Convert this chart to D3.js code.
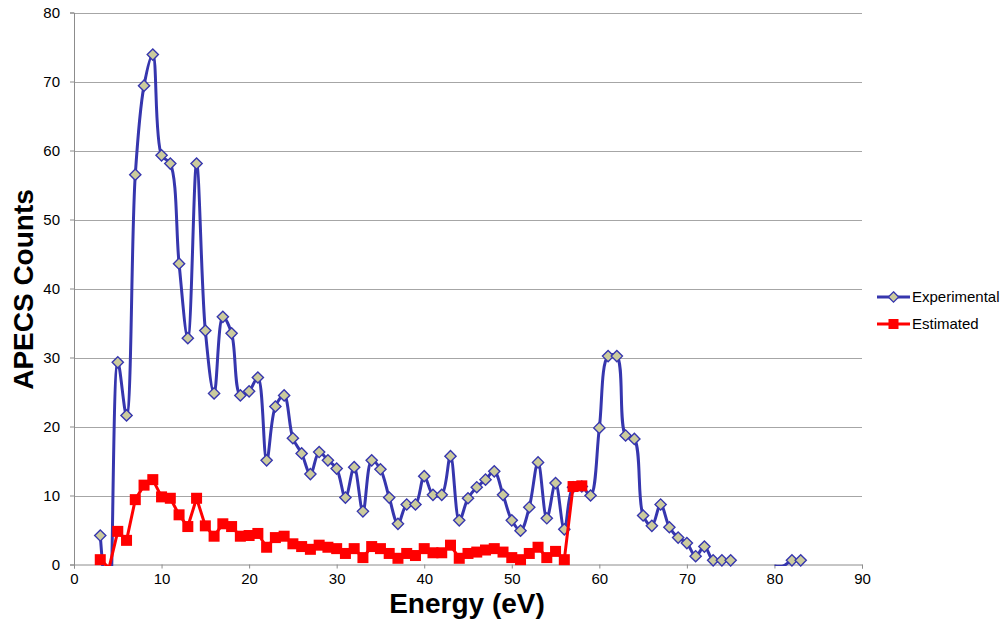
<!DOCTYPE html>
<html>
<head>
<meta charset="utf-8">
<script src="https://cdn.jsdelivr.net/npm/d3@7"></script>
<style>
  html, body { margin: 0; padding: 0; background: #fff; }
  svg { display: block; font-family: "Liberation Sans", Arial, sans-serif; }
</style>
</head>
<body>
<svg id="chart" width="1006" height="624"></svg>
<script>
// Photo-electron energies (eV) and counts for each series
const experimentalEnergy = [
  3, 4, 5, 6, 7, 8, 9, 10, 11, 12, 13, 14, 15, 16, 17, 18, 19, 20, 21, 22,
  23, 24, 25, 26, 27, 28, 29, 30, 31, 32, 33, 34, 35, 36, 37, 38, 39, 40, 41, 42,
  43, 44, 45, 46, 47, 48, 49, 50, 51, 52, 53, 54, 55, 56, 57, 58, 59, 60, 61, 62,
  63, 64, 65, 66, 67, 68, 69, 70, 71, 72, 73, 74, 75, 76, 77, 78, 79, 80, 81, 82, 83
];
const experimentalCounts = [
  4.2, -8, 29.3, 21.6, 56.5, 69.4, 73.9, 59.3, 58.1, 43.6, 32.8, 58.1, 33.9, 24.8, 35.9, 33.5, 24.5, 25.1, 27.1, 15.1,
  22.9, 24.5, 18.3, 16.1, 13.1, 16.3, 15.1, 13.9, 9.7, 14.1, 7.7, 15.1, 13.8, 9.7, 5.9, 8.7, 8.7, 12.8, 10.1, 10.1,
  15.7, 6.4, 9.6, 11.2, 12.3, 13.5, 10.1, 6.4, 4.9, 8.3, 14.8, 6.7, 11.8, 5.1, 11.2, 11.3, 10.0, 19.8, 30.2, 30.2,
  18.7, 18.2, 7.1, 5.6, 8.7, 5.4, 3.9, 3.1, 1.2, 2.6, 0.6, 0.6, 0.6, null, null, null, null, -0.2, -0.2, 0.6, 0.6
];

const estimatedEnergy = [
  3, 4, 5, 6, 7, 8, 9, 10, 11, 12, 13, 14, 15, 16, 17, 18, 19, 20, 21, 22,
  23, 24, 25, 26, 27, 28, 29, 30, 31, 32, 33, 34, 35, 36, 37, 38, 39, 40, 41, 42,
  43, 44, 45, 46, 47, 48, 49, 50, 51, 52, 53, 54, 55, 56, 57, 58
];
const estimatedCounts = [
  0.7, -0.5, 4.8, 3.5, 9.4, 11.5, 12.3, 9.8, 9.6, 7.2, 5.5, 9.6, 5.6, 4.1, 5.9, 5.5, 4.1, 4.2, 4.5, 2.5,
  3.9, 4.1, 3.0, 2.6, 2.2, 2.8, 2.5, 2.3, 1.6, 2.3, 1.0, 2.6, 2.3, 1.6, 0.9, 1.6, 1.3, 2.3, 1.7, 1.7,
  2.8, 0.9, 1.6, 1.8, 2.1, 2.3, 1.8, 1.0, 0.7, 1.6, 2.5, 1.0, 1.9, 0.7, 11.3, 11.4
];

const xTicks = [0, 10, 20, 30, 40, 50, 60, 70, 80, 90];
const yTicks = [0, 10, 20, 30, 40, 50, 60, 70, 80];
const seriesNames = ["Experimental", "Estimated"];

const svg = d3.select("#chart");
const plot = { left: 74, right: 862, top: 12.5, bottom: 564.5 };

const x = d3.scaleLinear().domain([0, 90]).range([plot.left, plot.right]);
const y = d3.scaleLinear().domain([0, 80]).range([plot.bottom, plot.top]);

const gridColor = "#a6a6a6";
const axisColor = "#8c8c8c";

// Horizontal gridlines
svg.append("g")
  .selectAll("line")
  .data(yTicks.filter(t => t > 0))
  .join("line")
  .attr("x1", plot.left).attr("x2", plot.right)
  .attr("y1", d => Math.round(y(d)) + 0.5).attr("y2", d => Math.round(y(d)) + 0.5)
  .attr("stroke", gridColor).attr("stroke-width", 1);

// Y axis
const yAxis = svg.append("g")
  .attr("transform", `translate(${plot.left},0)`)
  .call(d3.axisLeft(y).tickValues(yTicks).tickSize(4).tickPadding(10));
yAxis.select(".domain").attr("stroke", axisColor);
yAxis.selectAll(".tick line").attr("stroke", axisColor);
yAxis.selectAll(".tick text")
  .attr("font-size", 15).attr("fill", "#000")
  .attr("font-family", "'Liberation Sans', Arial, sans-serif");

// X axis
const xAxis = svg.append("g")
  .attr("transform", `translate(0,${plot.bottom})`)
  .call(d3.axisBottom(x).tickValues(xTicks).tickSize(4).tickPadding(5));
xAxis.select(".domain").attr("stroke", axisColor);
xAxis.selectAll(".tick line").attr("stroke", axisColor);
xAxis.selectAll(".tick text")
  .attr("font-size", 15).attr("fill", "#000")
  .attr("font-family", "'Liberation Sans', Arial, sans-serif");

// Axis titles
svg.append("text")
  .attr("x", x(45) - 1).attr("y", 613)
  .attr("text-anchor", "middle")
  .attr("font-size", 28).attr("font-weight", "bold")
  .text("Energy (eV)");

svg.append("text")
  .attr("transform", `translate(33,${(plot.top + plot.bottom) / 2 + 1}) rotate(-90)`)
  .attr("text-anchor", "middle")
  .attr("font-size", 28).attr("font-weight", "bold")
  .text("APECS Counts");

// Lines are clipped to the plotting area
svg.append("defs").append("clipPath").attr("id", "plotClip")
  .append("rect")
  .attr("x", plot.left).attr("y", plot.top)
  .attr("width", plot.right - plot.left).attr("height", plot.bottom - plot.top + 1.5);

const expData = experimentalEnergy.map((e, i) => ({ e, v: experimentalCounts[i] }));
const estData = estimatedEnergy.map((e, i) => ({ e, v: estimatedCounts[i] }));

const blue = "#3636ae";
const red = "#ff0000";
const diamondFill = "#cbcb9d";

const smoothLine = d3.line()
  .defined(d => d.v !== null)
  .x(d => x(d.e)).y(d => y(d.v))
  .curve(d3.curveCatmullRom.alpha(0.5));

const straightLine = d3.line()
  .defined(d => d.v !== null)
  .x(d => x(d.e)).y(d => y(d.v));

const inRange = d => d.v !== null && d.v >= 0;

const diamond = (cx, cy, r) =>
  `M${cx},${cy - r}L${cx + r},${cy}L${cx},${cy + r}L${cx - r},${cy}Z`;

// Experimental series
svg.append("path")
  .datum(expData)
  .attr("clip-path", "url(#plotClip)")
  .attr("d", smoothLine)
  .attr("fill", "none").attr("stroke", blue)
  .attr("stroke-width", 3).attr("stroke-linejoin", "round");

svg.append("g")
  .selectAll("path")
  .data(expData.filter(inRange))
  .join("path")
  .attr("d", d => diamond(x(d.e), y(d.v), 5.6))
  .attr("fill", diamondFill).attr("stroke", blue).attr("stroke-width", 1.4);

// Estimated series
svg.append("path")
  .datum(estData)
  .attr("clip-path", "url(#plotClip)")
  .attr("d", straightLine)
  .attr("fill", "none").attr("stroke", red)
  .attr("stroke-width", 3).attr("stroke-linejoin", "round");

svg.append("g")
  .selectAll("rect")
  .data(estData.filter(inRange))
  .join("rect")
  .attr("x", d => x(d.e) - 5.5).attr("y", d => y(d.v) - 5.5)
  .attr("width", 11).attr("height", 11)
  .attr("fill", red);

// Legend
const legend = svg.append("g").attr("transform", "translate(877,0)");
const legendRows = [
  { name: seriesNames[0], cy: 297 },
  { name: seriesNames[1], cy: 324 }
];

legend.append("line")
  .attr("x1", 0).attr("x2", 33).attr("y1", legendRows[0].cy).attr("y2", legendRows[0].cy)
  .attr("stroke", blue).attr("stroke-width", 3);
legend.append("path")
  .attr("d", diamond(16.5, legendRows[0].cy, 5.2))
  .attr("fill", diamondFill).attr("stroke", blue).attr("stroke-width", 1.3);

legend.append("line")
  .attr("x1", 0).attr("x2", 33).attr("y1", legendRows[1].cy).attr("y2", legendRows[1].cy)
  .attr("stroke", red).attr("stroke-width", 3);
legend.append("rect")
  .attr("x", 16.5 - 5).attr("y", legendRows[1].cy - 5)
  .attr("width", 10).attr("height", 10).attr("fill", red);

legend.selectAll("text")
  .data(legendRows)
  .join("text")
  .attr("x", 35).attr("y", d => d.cy + 5)
  .attr("font-size", 15).attr("fill", "#000")
  .text(d => d.name);
</script>
</body>
</html>
